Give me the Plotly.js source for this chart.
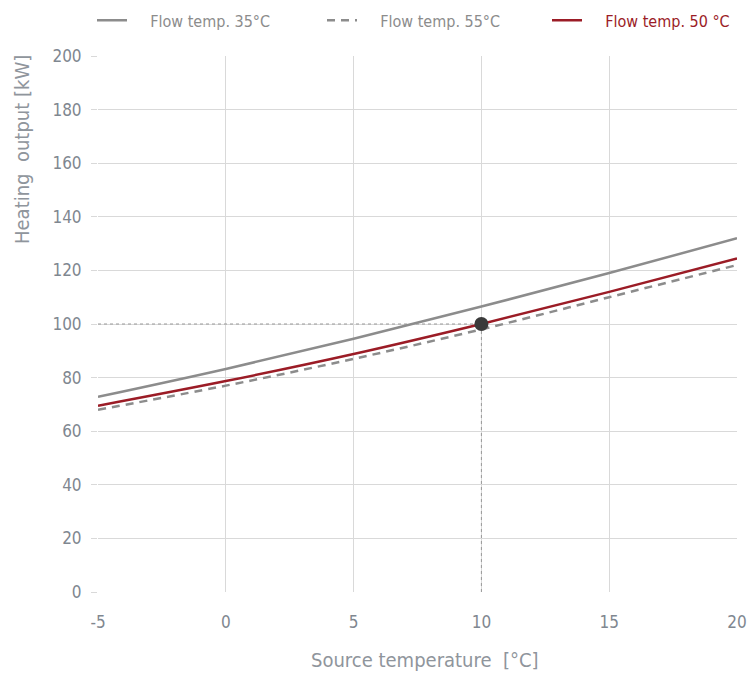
<!DOCTYPE html>
<html><head><meta charset="utf-8">
<script src="https://cdn.plot.ly/plotly-3.0.1.min.js"></script>
<style>body{margin:0;background:#fff}#c{width:751px;height:675px}</style>
</head><body><div id="c"></div>
<script>
const sourceTemp = [-5, 0, 5, 10, 15, 20];
const flow35 = [72.8, 83.2, 94.5, 106.5, 119, 132];
const flow55 = [68, 77, 87, 98, 110, 122];
const flow50 = [69.5, 78.7, 88.8, 100, 112, 124.5];
const refPointX = [10];
const refPointY = [100];
const refH_x = [-5, 10], refH_y = [100, 100];
const refV_x = [10, 10], refV_y = [0, 100];
const xTicks = [-5, 0, 5, 10, 15, 20];
const xTickText = ['-5', '0', '5', '10', '15', '20'];
const yTicks = [0, 20, 40, 60, 80, 100, 120, 140, 160, 180, 200];
const seriesNames = ['Flow temp. 35°C', 'Flow temp. 55°C', 'Flow temp. 50 °C'];

const F = '"DejaVu Sans Condensed", "DejaVu Sans", sans-serif';
const grey = '#8c8c8c', red = '#9b1c26';
const pad = '\u00a0\u00a0\u00a0\u00a0';
const traces = [
  {x: refH_x, y: refH_y, mode:'lines', line:{color:'#999', width:1, dash:'3px,3px'}, showlegend:false, hoverinfo:'skip'},
  {x: refV_x, y: refV_y, mode:'lines', line:{color:'#999', width:1, dash:'3px,3px'}, showlegend:false, hoverinfo:'skip'},
  {x: sourceTemp, y: flow35, mode:'lines', line:{color:grey, width:2.5, shape:'spline'}, name:pad+'<span style="color:#8c8c8c">'+seriesNames[0]+'</span>', legend:'legend'},
  {x: sourceTemp, y: flow55, mode:'lines', line:{color:grey, width:2.5, dash:'8px,6px', shape:'spline'}, name:pad+'<span style="color:#8c8c8c">'+seriesNames[1]+'</span>', legend:'legend2'},
  {x: sourceTemp, y: flow50, mode:'lines', line:{color:red, width:2.5, shape:'spline'}, name:pad+'<span style="color:#9b1c26">'+seriesNames[2]+'</span>', legend:'legend3'},
  {x: refPointX, y: refPointY, mode:'markers', marker:{color:'#3a3a3a', size:14}, showlegend:false}
];
const lg = (x) => ({orientation:'h', x:x, xanchor:'left', y:0.995, yanchor:'top', yref:'container', xref:'container', font:{size:16, family:F}, bgcolor:'rgba(0,0,0,0)'});
const layout = {
  width:751, height:675,
  margin:{l:98, r:14, t:56, b:83},
  paper_bgcolor:'#fff', plot_bgcolor:'#fff',
  font:{family:F, color:'#8a8f96', size:16},
  showlegend:true,
  legend: lg(92/751),
  legend2: lg(322/751),
  legend3: lg(547/751),
  xaxis:{range:[-5,20], tickvals:xTicks, ticktext:xTickText, showgrid:true, gridcolor:'#d9d9d9', zeroline:false, showline:false,
    ticks:'', ticklabelstandoff:18, tickfont:{size:17, color:'#7f8790'}},
  yaxis:{range:[0,200], tickvals:yTicks, showgrid:true, gridcolor:'#d9d9d9', zeroline:false, showline:false,
    ticks:'outside', ticklen:6, tickcolor:'#d9d9d9', ticklabelstandoff:6, tickfont:{size:17, color:'#7f8790'}},
  annotations:[
    {text:'Source temperature  [°C]', xref:'paper', yref:'paper', x:(425-98)/639, y:-(660-592)/536, xanchor:'center', yanchor:'middle', showarrow:false, font:{size:20, color:'#8f959c', family:F}},
    {text:'Heating  output [kW]', xref:'paper', yref:'paper', x:-(98-22)/639, y:(592-150)/536, xanchor:'center', yanchor:'middle', textangle:-90, showarrow:false, font:{size:20, color:'#8f959c', family:F}}
  ]
};
Plotly.newPlot('c', traces, layout, {displayModeBar:false, staticPlot:true});
</script></body></html>
